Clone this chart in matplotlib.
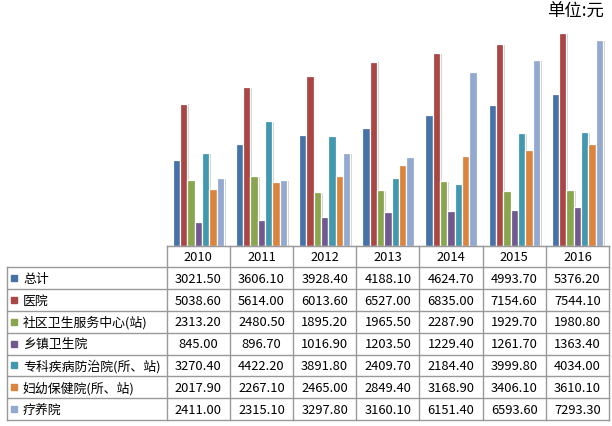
import matplotlib
matplotlib.use("Agg")
import matplotlib.pyplot as plt
import matplotlib.patheffects as pe
import numpy as np

plt.rcParams['font.family'] = ['Noto Sans CJK SC', 'DejaVu Sans']

years = ['2010', '2011', '2012', '2013', '2014', '2015', '2016']
series_names = ['总计', '医院', '社区卫生服务中心(站)', '乡镇卫生院',
                '专科疾病防治院(所、站)', '妇幼保健院(所、站)', '疗养院']
total      = [3021.50, 3606.10, 3928.40, 4188.10, 4624.70, 4993.70, 5376.20]
hospital   = [5038.60, 5614.00, 6013.60, 6527.00, 6835.00, 7154.60, 7544.10]
community  = [2313.20, 2480.50, 1895.20, 1965.50, 2287.90, 1929.70, 1980.80]
township   = [845.00, 896.70, 1016.90, 1203.50, 1229.40, 1261.70, 1363.40]
specialist = [3270.40, 4422.20, 3891.80, 2409.70, 2184.40, 3999.80, 4034.00]
maternal   = [2017.90, 2267.10, 2465.00, 2849.40, 3168.90, 3406.10, 3610.10]
sanatorium = [2411.00, 2315.10, 3297.80, 3160.10, 6151.40, 6593.60, 7293.30]
series = [total, hospital, community, township, specialist, maternal, sanatorium]
colors = ['#4572A7', '#AA4643', '#89A54E', '#71588F', '#4198AF', '#DB843D', '#93A9CF']

W, H = 612, 427
fig = plt.figure(figsize=(W / 100, H / 100), dpi=100)

# bar axes
x0, x1 = 166.7, 609.0
ybase, ytop = 246.7, 21.1
ax = fig.add_axes([x0 / W, (H - ybase) / H, (x1 - x0) / W, (ybase - ytop) / H])
n = len(series)
bw = 0.116
xs = np.arange(len(years))
shadow = [pe.SimplePatchShadow(offset=(1.3, -0.6), shadow_rgbFace='#999999', alpha=0.45), pe.Normal()]
for j, (vals, c) in enumerate(zip(series, colors)):
    bars = ax.bar(xs + (j - (n - 1) / 2) * bw, vals, width=bw, color=c,
                  edgecolor='white', linewidth=0.9, zorder=2)
    for b in bars:
        b.set_path_effects(shadow)
ax.set_xlim(-0.5, len(years) - 0.5)
ax.set_ylim(0, 8000)
for s in ['top', 'right', 'left']:
    ax.spines[s].set_visible(False)
ax.spines['bottom'].set_color('#999999')
ax.set_xticks([])
ax.set_yticks([])
ax.patch.set_alpha(0)

# table drawn in pixel coordinates
tax = fig.add_axes([0, 0, 1, 1], zorder=3)
tax.set_xlim(0, W)
tax.set_ylim(H, 0)
tax.axis('off')
tax.patch.set_alpha(0)

left = 7.0
col_edges = [x0 + i * (x1 - x0) / len(years) for i in range(len(years) + 1)]
head_top, head_bot, tbl_bot = 247.3, 268.3, 421.0
row_h = (tbl_bot - head_bot) / len(series)
row_edges = [head_bot + i * row_h for i in range(len(series) + 1)]
lc = '#999999'
lw = 1.0
tax.plot([x0, x1], [head_top, head_top], color=lc, lw=lw)
for y in row_edges:
    tax.plot([left, x1], [y, y], color=lc, lw=lw)
tax.plot([left, left], [head_bot, tbl_bot], color=lc, lw=lw)
for x in col_edges:
    tax.plot([x, x], [head_top, tbl_bot], color=lc, lw=lw)

fs = 9.3
for i, yr in enumerate(years):
    cx = (col_edges[i] + col_edges[i + 1]) / 2
    tax.text(cx, (head_top + head_bot) / 2, yr, ha='center', va='center', fontsize=fs, color='#000000')
for r, (name, vals, c) in enumerate(zip(series_names, series, colors)):
    cy = (row_edges[r] + row_edges[r + 1]) / 2
    tax.add_patch(plt.Rectangle((11, cy - 3), 6, 6, color=c))
    tax.text(23, cy, name, ha='left', va='center', fontsize=fs, color='#000000')
    for i, v in enumerate(vals):
        cx = (col_edges[i] + col_edges[i + 1]) / 2
        tax.text(cx, cy, f'{v:.2f}', ha='center', va='center', fontsize=fs, color='#000000')

tax.text(604, 12, '单位:元', ha='right', va='center', fontsize=12.5, color='#000000')

fig.savefig('out.png', dpi=100)
